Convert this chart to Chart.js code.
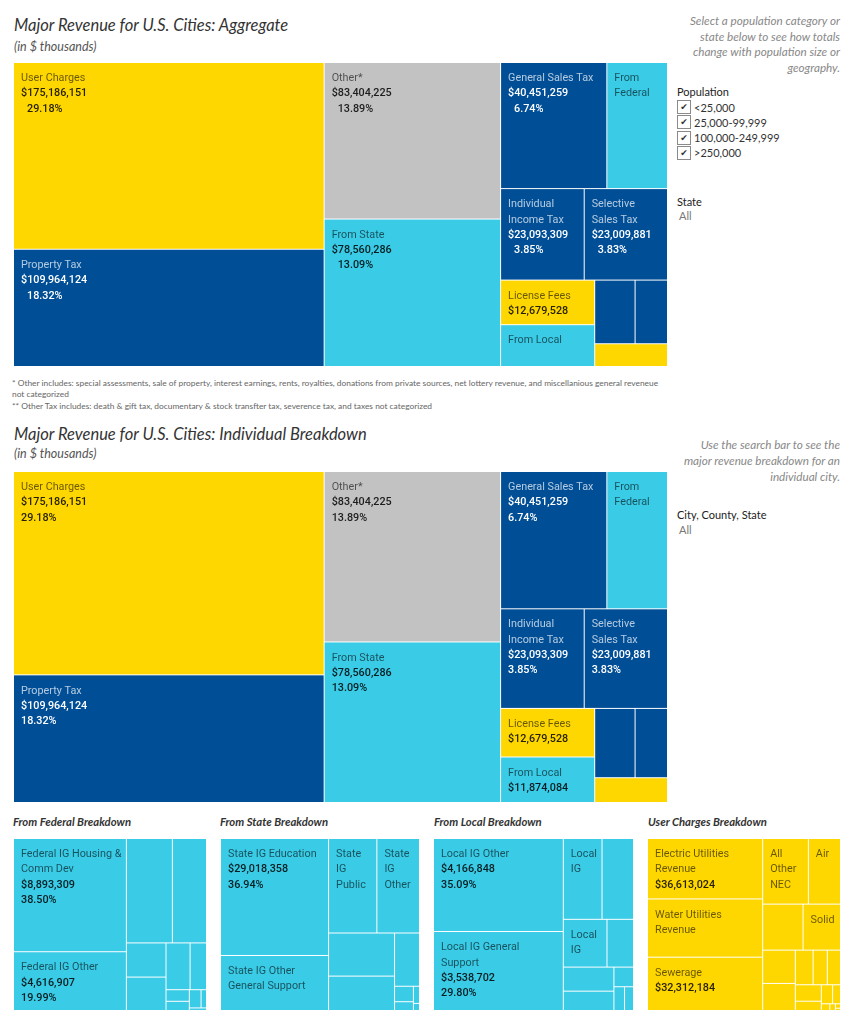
<!DOCTYPE html>
<html>
<head>
<meta charset="utf-8">
<title>Major Revenue for U.S. Cities</title>
<script src="https://cdn.jsdelivr.net/npm/chart.js@4.4.1/dist/chart.umd.min.js"></script>
<style>
  body { margin: 0; background: #fff; font-family: Lato, "Open Sans", sans-serif; }
  #page { position: relative; width: 853px; height: 1024px; overflow: hidden; }
  .t { position: absolute; white-space: nowrap; line-height: 1.2; }
  .title { font-style: italic; font-size: 16.5px; color: #333; }
  .sub { font-style: italic; font-size: 12.5px; color: #555; }
  .note { font-style: italic; font-size: 11.7px; color: #888; text-align: right; right: 13px; }
  .hdr { font-size: 11px; color: #222; }
  .opt { font-size: 11px; color: #333; }
  .all { font-size: 11px; color: #777; }
  .foot { font-size: 8.4px; color: #666; }
  .bt { font-style: italic; font-weight: 700; font-size: 11.3px; color: #333; }
  .box { position: absolute; width: 14px; height: 14px; border: 1px solid #8a8a8a; box-sizing: border-box;
         font-family: "DejaVu Sans", sans-serif; font-size: 9px; line-height: 12px; text-align: center; color: #333; background: #fff; }
  canvas { position: absolute; }
</style>
</head>
<body>
<div id="page">
  <div class="t title" style="left:14px;top:16px">Major Revenue for U.S. Cities: Aggregate</div>
  <div class="t sub" style="left:14px;top:38.5px">(in $ thousands)</div>
  <div class="t note" style="top:13px">Select a population category or</div>
  <div class="t note" style="top:29px">state below to see how totals</div>
  <div class="t note" style="top:44px">change with population size or</div>
  <div class="t note" style="top:60px">geography.</div>
  <div class="t hdr" style="left:677px;top:85px">Population</div>
  <div id="popList"></div>
  <div class="t hdr" style="left:677px;top:195px">State</div>
  <div class="t all" style="left:679px;top:209px">All</div>

  <canvas id="aggregate" width="654" height="304" style="left:14px;top:63px"></canvas>

  <div class="t foot" style="left:12px;top:377.5px">* Other includes: special assessments, sale of property, interest earnings, rents, royalties, donations from private sources, net lottery revenue, and miscellanious general reveneue</div>
  <div class="t foot" style="left:12px;top:389px">not categorized</div>
  <div class="t foot" style="left:12px;top:401px">** Other Tax includes: death &amp; gift tax, documentary &amp; stock transfter tax, severence tax, and taxes not categorized</div>

  <div class="t title" style="left:14px;top:425px">Major Revenue for U.S. Cities: Individual Breakdown</div>
  <div class="t sub" style="left:14px;top:445.5px">(in $ thousands)</div>
  <div class="t note" style="top:437px">Use the search bar to see the</div>
  <div class="t note" style="top:453px">major revenue breakdown for an</div>
  <div class="t note" style="top:469px">individual city.</div>
  <div class="t hdr" style="left:677px;top:508px">City, County, State</div>
  <div class="t all" style="left:679px;top:523px">All</div>

  <canvas id="individual" width="654" height="331" style="left:14px;top:472px"></canvas>

  <div class="t bt" style="left:13px;top:814.5px">From Federal Breakdown</div>
  <div class="t bt" style="left:220px;top:814.5px">From State Breakdown</div>
  <div class="t bt" style="left:434px;top:814.5px">From Local Breakdown</div>
  <div class="t bt" style="left:648px;top:814.5px">User Charges Breakdown</div>

  <canvas id="federal" width="193" height="172" style="left:14px;top:839px"></canvas>
  <canvas id="state" width="199" height="172" style="left:221px;top:839px"></canvas>
  <canvas id="local" width="200" height="172" style="left:434px;top:839px"></canvas>
  <canvas id="charges" width="193" height="172" style="left:648px;top:839px"></canvas>
</div>

<script>
// ---- data (in $ thousands) ----
const revenueNames = ['User Charges', 'Property Tax', 'Other*', 'From State', 'General Sales Tax', 'From Federal',
  'Individual Income Tax', 'Selective Sales Tax', 'License Fees', 'From Local', 'Corporate Income Tax', 'Other Tax**', 'Other Fees'];
const revenueValues = [175186151, 109964124, 83404225, 78560286, 40451259, 23100504,
  23093309, 23009881, 12679528, 11874084, 7761903, 6231477, 5004269];
const revenueGroups = ['charge', 'tax', 'other', 'ig', 'tax', 'ig', 'tax', 'tax', 'charge', 'ig', 'tax', 'tax', 'charge'];

const federalNames = ['Federal IG Housing & Comm Dev', 'Federal IG Other', 'Federal IG Public Welfare', 'Federal IG Education',
  'Federal IG Highways', 'Federal IG Transit', 'Federal IG Sewerage', 'Federal IG Health & Hospitals', 'Federal IG Air Transportation',
  'Federal IG Water Supply', 'Federal IG Natural Resources', 'Federal IG Parks & Recreation', 'Federal IG Electric Utilities'];
const federalValues = [8893309, 4616907, 3342118, 2479236, 942487, 921853, 783410, 534962, 188214, 149376, 148905, 69047, 30680];

const stateNames = ['State IG Education', 'State IG Other General Support', 'State IG Public Hospitals', 'State IG Other',
  'State IG Housing & Comm Dev', 'State IG Health & Hospitals', 'State IG Highways', 'State IG Transit', 'State IG Sewerage',
  'State IG Parks & Recreation', 'State IG Water Supply'];
const stateValues = [29018358, 13652214, 10474306, 9245138, 6526027, 5207469, 3048315, 669281, 380172, 239806, 99200];

const localNames = ['Local IG Other', 'Local IG General Support', 'Local IG Highways', 'Local IG Public Welfare',
  'Local IG Housing & Comm Dev', 'Local IG Education', 'Local IG Health & Hospitals', 'Local IG Sewerage', 'Local IG Transit',
  'Local IG Water Supply', 'Local IG Parks & Recreation'];
const localValues = [4166848, 3538702, 1080512, 878306, 720685, 437204, 420318, 338027, 132841, 87196, 73445];

const chargeNames = ['Electric Utilities Revenue', 'Water Utilities Revenue', 'Sewerage', 'All Other NEC', 'Air Transportation',
  'Parking Facilities', 'Solid Waste Management', 'Hospitals', 'Parks & Recreation', 'Housing & Comm Dev', 'Gas Utilities Revenue',
  'Transit Utilities Revenue', 'Highways', 'Sea & Inland Port Facilities', 'Natural Resources', 'Education', 'Libraries',
  'Public Welfare', 'Health', 'Police'];
const chargeValues = [36613024, 35296418, 32312184, 15786412, 11093580, 9781205, 9058733, 5724918, 4655302, 3246117, 2581946,
  2402675, 2249810, 1268443, 1131582, 789306, 301447, 198264, 118590, 61238];

const populationOptions = ['<25,000', '25,000-99,999', '100,000-249,999', '>250,000'];

// ---- look ----
const palette = {
  charge: { fill: '#FFD700', name: 'rgba(0,0,0,0.6)', value: 'rgba(0,0,0,0.85)' },
  tax:    { fill: '#004E96', name: 'rgba(255,255,255,0.7)', value: '#ffffff' },
  ig:     { fill: '#3ACBE6', name: 'rgba(0,0,0,0.6)', value: 'rgba(0,0,0,0.85)' },
  other:  { fill: '#C2C2C2', name: 'rgba(0,0,0,0.6)', value: 'rgba(0,0,0,0.85)' },
};
const NAME_FONT = '10.8px Roboto';
const VALUE_FONT = '500 10.8px Roboto';
const LINE = 15.3;
const PAD = 11.8;

const list = document.getElementById('popList');
populationOptions.forEach((label, i) => {
  const top = 100 + i * 15.3;
  list.insertAdjacentHTML('beforeend',
    `<div class="box" style="left:677px;top:${top}px">✔</div>` +
    `<div class="t opt" style="left:694px;top:${top + 0.5}px">${label}</div>`);
});

// squarified layout (golden-ratio target, as Tableau / d3 do)
const PHI = (1 + Math.sqrt(5)) / 2;
function squarify(values, x0, y0, x1, y1) {
  const rects = [];
  const n = values.length;
  let value = values.reduce((a, b) => a + b, 0);
  let i0 = 0, i1 = 0;
  while (i0 < n) {
    const dx = x1 - x0, dy = y1 - y0;
    let sum = values[i1++];
    let minV = sum, maxV = sum;
    const alpha = Math.max(dy / dx, dx / dy) / (value * PHI);
    let beta = sum * sum * alpha;
    let minRatio = Math.max(maxV / beta, beta / minV);
    for (; i1 < n; ++i1) {
      const v = values[i1];
      sum += v;
      if (v < minV) minV = v;
      if (v > maxV) maxV = v;
      beta = sum * sum * alpha;
      const r = Math.max(maxV / beta, beta / minV);
      if (r > minRatio) { sum -= v; break; }
      minRatio = r;
    }
    if (dx < dy) {
      const yb = i1 < n ? y0 + dy * sum / value : y1;
      let xx = x0;
      for (let i = i0; i < i1; i++) {
        const xn = i === i1 - 1 ? x1 : xx + dx * values[i] / sum;
        rects[i] = { x0: xx, y0, x1: xn, y1: yb };
        xx = xn;
      }
      y0 = yb;
    } else {
      const xb = i1 < n ? x0 + dx * sum / value : x1;
      let yy = y0;
      for (let i = i0; i < i1; i++) {
        const yn = i === i1 - 1 ? y1 : yy + dy * values[i] / sum;
        rects[i] = { x0, y0: yy, x1: xb, y1: yn };
        yy = yn;
      }
      x0 = xb;
    }
    value -= sum;
    i0 = i1;
  }
  return rects;
}

function drawLabel(ctx, r, name, value, total, pal, indent) {
  const w = r.x1 - r.x0, h = r.y1 - r.y0, maxW = w - PAD;
  const fits = k => 12.6 + k * LINE <= h;
  ctx.font = NAME_FONT;
  const nameLines = [];
  let cur = '', clipped = false;
  for (const word of name.split(' ')) {
    const t = cur ? cur + ' ' + word : word;
    if (ctx.measureText(t).width <= maxW) { cur = t; continue; }
    if (cur) nameLines.push(cur);
    cur = '';
    if (ctx.measureText(word).width > maxW) { clipped = true; break; }
    cur = word;
  }
  if (cur) nameLines.push(cur);
  if (!nameLines.length || !fits(nameLines.length)) return;

  const lines = nameLines.map(t => ({ t, font: NAME_FONT, color: pal.name, dx: 0 }));
  if (!clipped) {
    const extra = [
      { t: '$' + value.toLocaleString('en-US'), dx: 0 },
      { t: (value / total * 100).toFixed(2) + '%', dx: indent },
    ];
    ctx.font = VALUE_FONT;
    for (const e of extra) {
      if (!fits(lines.length + 1) || ctx.measureText(e.t).width + e.dx > maxW) break;
      lines.push({ ...e, font: VALUE_FONT, color: pal.value });
    }
  }
  ctx.textBaseline = 'middle';
  ctx.textAlign = 'left';
  lines.forEach((l, k) => {
    ctx.font = l.font;
    ctx.fillStyle = l.color;
    ctx.fillText(l.t, r.x0 + 7 + l.dx, r.y0 + 15.5 + k * LINE);
  });
}

const treemapPlugin = {
  id: 'treemap',
  afterDatasetsDraw(chart, args, o) {
    const { ctx } = chart;
    const { x, y } = chart.scales;
    const total = o.values.reduce((a, b) => a + b, 0);
    const rects = squarify(o.values, x.getPixelForValue(0), y.getPixelForValue(0), x.getPixelForValue(1), y.getPixelForValue(1));
    ctx.save();
    rects.forEach((r, i) => {
      const pal = palette[o.groups[i]];
      ctx.fillStyle = pal.fill;
      ctx.fillRect(r.x0, r.y0, r.x1 - r.x0 - 1, r.y1 - r.y0 - 1);
      drawLabel(ctx, r, o.names[i], o.values[i], total, pal, o.pctIndent);
    });
    ctx.restore();
  }
};
Chart.register(treemapPlugin);

function makeTreemap(id, names, values, groups, pctIndent) {
  return new Chart(document.getElementById(id), {
    type: 'scatter',
    data: { datasets: [] },
    options: {
      responsive: false,
      animation: false,
      events: [],
      layout: { padding: 0 },
      scales: {
        x: { type: 'linear', min: 0, max: 1, display: false },
        y: { type: 'linear', min: 0, max: 1, reverse: true, display: false },
      },
      plugins: {
        legend: { display: false },
        tooltip: { enabled: false },
        treemap: { names, values, groups, pctIndent },
      },
    },
  });
}

makeTreemap('aggregate', revenueNames, revenueValues, revenueGroups, 6);
makeTreemap('individual', revenueNames, revenueValues, revenueGroups, 0);
makeTreemap('federal', federalNames, federalValues, federalNames.map(() => 'ig'), 0);
makeTreemap('state', stateNames, stateValues, stateNames.map(() => 'ig'), 0);
makeTreemap('local', localNames, localValues, localNames.map(() => 'ig'), 0);
makeTreemap('charges', chargeNames, chargeValues, chargeNames.map(() => 'charge'), 0);
</script>
</body>
</html>
